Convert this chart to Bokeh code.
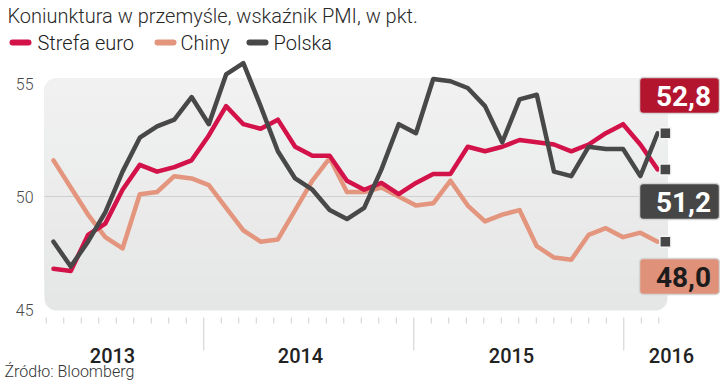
from bokeh.plotting import figure
from bokeh.models import Range1d
from bokeh.core.properties import value
from bokeh.embed import file_html
from bokeh.resources import INLINE

# ---------------- data (monthly PMI, 03.2013 - 02.2016) ----------------
months = [f"{m:02d}.{y}" for y in (2013, 2014, 2015, 2016) for m in range(1, 13)][2:38]
euro = [46.8, 46.7, 48.3, 48.8, 50.3, 51.4, 51.1, 51.3, 51.6, 52.7,
        54.0, 53.2, 53.0, 53.4, 52.2, 51.8, 51.8, 50.7, 50.3, 50.6, 50.1, 50.6,
        51.0, 51.0, 52.2, 52.0, 52.2, 52.5, 52.4, 52.3, 52.0, 52.3, 52.8, 53.2,
        52.3, 51.2]
chiny = [51.6, 50.4, 49.2, 48.2, 47.7, 50.1, 50.2, 50.9, 50.8, 50.5,
         49.5, 48.5, 48.0, 48.1, 49.4, 50.7, 51.7, 50.2, 50.2, 50.4, 50.0, 49.6,
         49.7, 50.7, 49.6, 48.9, 49.2, 49.4, 47.8, 47.3, 47.2, 48.3, 48.6, 48.2,
         48.4, 48.0]
polska = [48.0, 46.9, 48.0, 49.3, 51.1, 52.6, 53.1, 53.4, 54.4, 53.2,
          55.4, 55.9, 54.0, 52.0, 50.8, 50.3, 49.4, 49.0, 49.5, 51.2, 53.2, 52.8,
          55.2, 55.1, 54.8, 54.0, 52.4, 54.3, 54.5, 51.1, 50.9, 52.2, 52.1, 52.1,
          50.9, 52.8]
series_names = ["Strefa euro", "Chiny", "Polska"]
y_ticks = [45, 50, 55]
year_labels = ["2013", "2014", "2015", "2016"]
title_text = "Koniunktura w przemyśle, wskaźnik PMI, w pkt."
source_text = "Źródło: Bloomberg"

# ---------------- styles / layout ----------------
C_EURO = "#d3124a"
C_CHINY = "#e3957e"
C_POL = "#484848"
SERIES_COLORS = [C_EURO, C_CHINY, C_POL]
BOX_COLORS = ["#b3152e", "#464646", "#e0917a"]
BOX_TEXT = ["#ffffff", "#ffffff", "#1c1c1c"]
LIGHT = "Roboto Light, Roboto"
W, H = 720, 387
PX, PY = 17.26, 22.6          # pixels per month / per PMI point
X0, Y50 = 53, 196             # screen position of first month / of PMI 50


def xd(px):
    return (px - X0) / PX


def yd(py):
    return 50 + (Y50 - py) / PY


x = list(range(len(months)))

p = figure(width=W, height=H, output_backend="svg", toolbar_location=None,
           x_range=Range1d(xd(0), xd(W)), y_range=Range1d(yd(H), yd(0)),
           x_axis_type=None, y_axis_type=None,
           min_border_left=0, min_border_right=0, min_border_top=0, min_border_bottom=0)
p.outline_line_color = None
p.background_fill_color = "white"
p.border_fill_color = "white"
p.grid.visible = False

# background panel (rounded) with a soft vertical gradient
top_c, bot_c = (242, 242, 242), (229, 230, 230)
pl, pr, pt, pb = xd(44), xd(667), yd(78), yd(310)
p.quad(left=[pl], right=[pr], top=[pt], bottom=[pb], fill_color="#%02x%02x%02x" % bot_c,
       line_color=None, border_radius=12)
N = 14
for k in range(1, N):
    t = k / N
    c = tuple(round(bot_c[i] + (top_c[i] - bot_c[i]) * t) for i in range(3))
    b = pb + (pt - pb) * t
    p.quad(left=[pl], right=[pr], top=[pt], bottom=[b], fill_color="#%02x%02x%02x" % c,
           line_color=None, border_radius=(12, 12, 0, 0))

# reference line at 50
p.segment(x0=[pl], y0=[y_ticks[1]], x1=[pr], y1=[y_ticks[1]], line_color="#cfcfcf", line_width=1.2)

# y tick labels
p.text(x=[xd(33)] * len(y_ticks), y=y_ticks, text=[str(v) for v in y_ticks],
       text_font=value(LIGHT), text_font_size="16px", text_color="#4a4a4a",
       text_align="right", text_baseline="middle")

# x ticks: monthly ticks + long year separators, year labels
tick_pos = [-0.42 + 1.014 * k for k in range(36)]
sep_idx = [9, 21, 33]
short = [t for i, t in enumerate(tick_pos) if i not in sep_idx]
longt = [tick_pos[i] for i in sep_idx]
p.segment(x0=short, y0=[yd(317)] * len(short), x1=short, y1=[yd(323)] * len(short),
          line_color="#cfcfcf", line_width=1)
p.segment(x0=longt, y0=[yd(317)] * 3, x1=longt, y1=[yd(350)] * 3,
          line_color="#cfcfcf", line_width=1)
year_pos = [xd(112), xd(300), xd(511), xd(671)]
p.text(x=year_pos, y=[yd(355)] * 4, text=year_labels,
       text_font=value("Roboto Medium, Roboto"), text_font_size="20px", text_color="#222222",
       text_align="center", text_baseline="middle")

# source
p.text(x=[xd(4)], y=[yd(371)], text=[source_text], text_font=value(LIGHT),
       text_font_size="16px", text_color="#333333", text_align="left", text_baseline="middle")

# title
p.text(x=[xd(7)], y=[yd(15)], text=[title_text], text_font=value(LIGHT),
       text_font_size="20px", text_color="#2a2a2a", text_align="left", text_baseline="middle")

# legend
leg_mark = [12, 157, 249]
leg_text = [37, 180, 273]
p.segment(x0=[xd(v) for v in leg_mark], y0=[yd(42)] * 3,
          x1=[xd(v + 16) for v in leg_mark], y1=[yd(42)] * 3,
          line_color=SERIES_COLORS, line_width=6, line_cap="round")
p.text(x=[xd(v) for v in leg_text], y=[yd(42)] * 3, text=series_names,
       text_font=value(LIGHT), text_font_size="20px", text_color="#222222",
       text_align="left", text_baseline="middle")

# series
lw = 4.5
p.line(x, chiny, line_color=C_CHINY, line_width=lw, line_join="round", line_cap="round")
p.line(x, euro, line_color=C_EURO, line_width=lw, line_join="round", line_cap="round")
p.line(x, polska, line_color=C_POL, line_width=lw, line_join="round", line_cap="round")

# end markers
finals = [euro[-1], chiny[-1], polska[-1]]
p.scatter([x[-1] + 0.45] * 3, finals, marker="square", size=11,
          fill_color="#474747", line_color="#f4f4f4", line_width=1.5)

# value boxes on the right (sorted from highest)
vals = sorted(finals, reverse=True)
box_top = [yd(77), yd(183), yd(258)]
box_bot = [yd(113), yd(219), yd(294)]
p.quad(left=[xd(639)] * 3, right=[xd(719)] * 3, top=box_top, bottom=box_bot,
       fill_color=BOX_COLORS, line_color="#d4d4d4", line_width=1.5, border_radius=4)
p.text(x=[xd(683)] * 3, y=[(a + b) / 2 for a, b in zip(box_top, box_bot)],
       text=[f"{v:.1f}".replace(".", ",") for v in vals],
       text_color=BOX_TEXT, text_font=value("Roboto"), text_font_style="bold",
       text_font_size="28px", text_align="center", text_baseline="middle")

open("out.html", "w").write(file_html(p, INLINE))
